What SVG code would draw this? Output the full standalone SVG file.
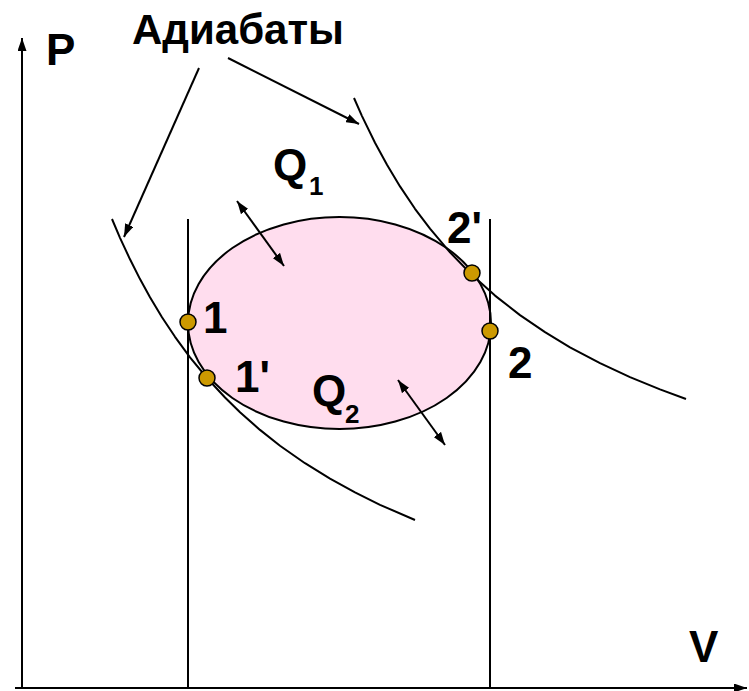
<svg xmlns="http://www.w3.org/2000/svg" width="749" height="691" viewBox="0 0 749 691">
<defs>
<marker id="ah" viewBox="0 0 13 9" refX="13" refY="4.5" markerWidth="13" markerHeight="9" markerUnits="userSpaceOnUse" orient="auto-start-reverse">
<path d="M0,0 L13,4.5 L0,9 Z" fill="#000"/>
</marker>
<style>
.ln{fill:none;stroke:#000;stroke-width:2;stroke-linejoin:round}
.ar{fill:none;stroke:#000;stroke-width:2;marker-end:url(#ah)}
.dar{fill:none;stroke:#000;stroke-width:2;marker-start:url(#ah);marker-end:url(#ah)}
.pt{fill:#CC9900;stroke:#000;stroke-width:1.5}
.t{font-family:"Liberation Sans",Arial,sans-serif;font-weight:bold;fill:#000}
</style>
</defs>
<rect width="749" height="691" fill="#fff"/>
<g id="ellipse">
<ellipse cx="339.5" cy="323" rx="151.5" ry="106" fill="#FFDDEE" stroke="#000" stroke-width="2"/>
</g>
<g id="axes">
<line class="ar" x1="22" y1="688" x2="22" y2="38"/>
<line class="ar" x1="15" y1="688" x2="747" y2="688"/>
<text class="t" x="46" y="65" font-size="44">P</text>
<text class="t" x="689" y="662" font-size="44">V</text>
</g>
<g id="isochores">
<line class="ln" x1="188" y1="219" x2="188" y2="688"/>
<line class="ln" x1="490" y1="219" x2="490" y2="688" stroke-width="1.6"/>
</g>
<g id="adiabats">
<path class="ln" d="M112,219 L120,237.8 L130,259.3 L140,279.1 L150,297.3 L162,317.2 L175,336.8 L190,357.3 L207,378 L225,397.5 L240,412.2 L260,429.9 L280,445.7 L305,463.2 L330,478.7 L355,492.4 L380,504.8 L415,520"/>
<path class="ln" d="M354,98 L362,116.1 L375,142.7 L387,164.8 L400,186.4 L415,208.8 L430,228.7 L450,252.3 L471,274 L495,295.6 L520,315.1 L545,332.2 L570,347.3 L600,363.2 L630,377.1 L660,389.4 L686,399"/>
</g>
<g id="label-adiabats">
<text class="t" x="132" y="44" font-size="42">Адиабаты</text>
</g>
<g id="connectors">
<line class="ar" x1="199" y1="68" x2="124" y2="237"/>
<line class="ar" x1="228" y1="58" x2="359" y2="124"/>
<line class="dar" x1="237" y1="201" x2="284" y2="266"/>
<line class="dar" x1="398" y1="380" x2="445" y2="445"/>
</g>
<g id="Q1">
<text class="t" x="273" y="180" font-size="44">Q</text>
<text class="t" x="309" y="195" font-size="26">1</text>
</g>
<g id="Q2">
<text class="t" x="312" y="406" font-size="44">Q</text>
<text class="t" x="345" y="423" font-size="26">2</text>
</g>
<g id="p1">
<circle class="pt" cx="188" cy="322" r="8"/>
<text class="t" x="203" y="333" font-size="44">1</text>
</g>
<g id="p1prime">
<circle class="pt" cx="207" cy="378" r="8"/>
<text class="t" x="235" y="392" font-size="44">1'</text>
</g>
<g id="p2prime">
<circle class="pt" cx="472" cy="273" r="8"/>
<text class="t" x="447" y="243" font-size="44">2'</text>
</g>
<g id="p2">
<circle class="pt" cx="490" cy="331" r="8"/>
<text class="t" x="508" y="378" font-size="44">2</text>
</g>
</svg>
